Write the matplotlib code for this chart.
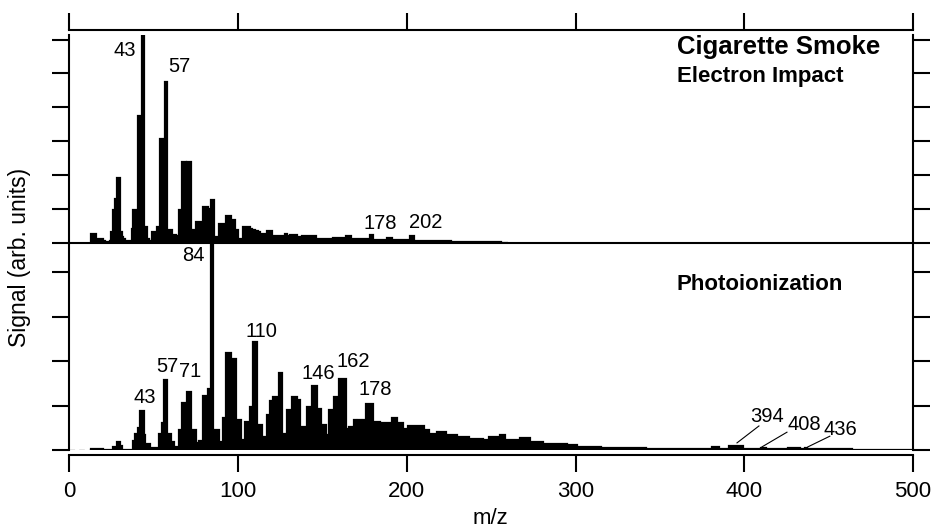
import numpy as np
import matplotlib
matplotlib.use('Agg')
import matplotlib.pyplot as plt

plt.rcParams['font.family'] = ['Liberation Sans', 'DejaVu Sans']

# ---------------- data (unit-mass channels) ----------------
ei_start_mz = 12   # electron impact spectrum, first channel m/z
ei_signal = [
    0.00, 0.26, 0.26, 0.26, 0.11, 0.11, 0.11, 0.11, 0.03, 0.02,   # 12-21
    0.02, 0.02, 0.03, 0.30, 0.95, 1.29, 1.90, 1.90, 0.31, 0.15,   # 22-31
    0.11, 0.05, 0.03, 0.03, 0.03, 0.40, 0.95, 0.95, 0.95, 3.75,   # 32-41
    3.75, 6.10, 0.45, 0.45, 0.11, 0.05, 0.05, 0.31, 0.31, 0.31,   # 42-51
    0.45, 0.45, 3.06, 3.06, 3.06, 4.74, 0.36, 0.36, 0.36, 0.21,   # 52-61
    0.21, 0.20, 0.20, 0.95, 0.95, 2.37, 2.37, 2.30, 2.37, 2.37,   # 62-71
    0.36, 0.36, 0.36, 0.60, 0.60, 0.60, 0.60, 1.04, 1.04, 1.04,   # 72-81
    0.98, 0.98, 1.27, 1.27, 0.16, 0.16, 0.16, 0.55, 0.55, 0.55,   # 82-91
    0.55, 0.78, 0.78, 0.78, 0.67, 0.67, 0.36, 0.36, 0.11, 0.11,   # 92-101
    0.11, 0.45, 0.45, 0.45, 0.45, 0.40, 0.38, 0.36, 0.35, 0.35,   # 102-111
    0.30, 0.26, 0.26, 0.26, 0.26, 0.33, 0.33, 0.33, 0.20, 0.20,   # 112-121
    0.20, 0.20, 0.20, 0.20, 0.20, 0.20, 0.24, 0.20, 0.20, 0.23,   # 122-131
    0.23, 0.23, 0.23, 0.16, 0.16, 0.16, 0.18, 0.18, 0.18, 0.18,   # 132-141
    0.18, 0.18, 0.18, 0.18, 0.11, 0.11, 0.11, 0.11, 0.11, 0.11,   # 142-151
    0.11, 0.11, 0.11, 0.11, 0.14, 0.14, 0.14, 0.14, 0.14, 0.14,   # 152-161
    0.14, 0.14, 0.18, 0.18, 0.18, 0.11, 0.11, 0.11, 0.11, 0.11,   # 162-171
    0.11, 0.11, 0.11, 0.11, 0.11, 0.11, 0.22, 0.22, 0.08, 0.08,   # 172-181
    0.08, 0.08, 0.08, 0.08, 0.08, 0.08, 0.12, 0.12, 0.12, 0.07,   # 182-191
    0.07, 0.07, 0.07, 0.07, 0.07, 0.07, 0.07, 0.07, 0.07, 0.07,   # 192-201
    0.18, 0.18, 0.03, 0.03, 0.03, 0.03, 0.03, 0.03, 0.03, 0.03,   # 202-211
    0.03, 0.03, 0.03, 0.03, 0.03, 0.03, 0.03, 0.03, 0.03, 0.03,   # 212-221
    0.03, 0.03, 0.03, 0.03, 0.01, 0.01, 0.01, 0.01, 0.01, 0.01,   # 222-231
    0.01, 0.01, 0.01, 0.01, 0.01, 0.01, 0.01, 0.01, 0.01, 0.01,   # 232-241
    0.01, 0.01, 0.01, 0.01, 0.01, 0.01, 0.01, 0.01, 0.01, 0.01,   # 242-251
    0.01, 0.01, 0.01, 0.01, 0.00, 0.00, 0.00, 0.00,               # 252-259
]

pi_start_mz = 12   # photoionization spectrum, first channel m/z
pi_signal = [
    0.00, 0.02, 0.02, 0.02, 0.02, 0.02, 0.02, 0.02, 0.01, 0.01,   # 12-21
    0.01, 0.01, 0.01, 0.01, 0.07, 0.07, 0.19, 0.19, 0.10, 0.01,   # 22-31
    0.01, 0.01, 0.01, 0.01, 0.01, 0.01, 0.20, 0.37, 0.37, 0.50,   # 32-41
    0.88, 0.88, 0.34, 0.14, 0.14, 0.14, 0.04, 0.04, 0.04, 0.04,   # 42-51
    0.04, 0.37, 0.37, 0.60, 1.57, 1.57, 0.37, 0.37, 0.19, 0.19,   # 52-61
    0.07, 0.07, 0.07, 0.45, 0.45, 1.05, 1.05, 1.05, 1.31, 1.31,   # 62-71
    0.45, 0.45, 0.45, 0.15, 0.15, 0.20, 0.20, 1.21, 1.21, 1.21,   # 72-81
    1.38, 1.38, 4.70, 0.45, 0.45, 0.45, 0.45, 0.19, 0.19, 0.71,   # 82-91
    0.71, 2.17, 2.17, 2.17, 2.04, 2.04, 2.04, 0.67, 0.67, 0.67,   # 92-101
    0.22, 0.22, 0.64, 0.64, 0.64, 0.97, 0.97, 2.43, 2.43, 0.56,   # 102-111
    0.56, 0.56, 0.30, 0.30, 0.30, 0.78, 0.78, 1.09, 1.09, 1.20,   # 112-121
    1.20, 1.20, 1.74, 1.74, 0.37, 0.37, 0.30, 0.90, 0.90, 0.90,   # 122-131
    1.20, 1.20, 1.20, 1.12, 1.12, 0.52, 0.52, 0.52, 0.33, 0.97,   # 132-141
    0.97, 0.97, 1.44, 1.44, 1.44, 0.93, 0.93, 0.56, 0.56, 0.56,   # 142-151
    0.33, 0.33, 0.90, 0.90, 0.90, 1.20, 1.20, 1.20, 1.60, 1.60,   # 152-161
    1.60, 1.60, 0.48, 0.48, 0.52, 0.52, 0.52, 0.67, 0.66, 0.68,   # 162-171
    0.67, 0.66, 0.67, 0.68, 1.03, 1.03, 1.03, 1.03, 0.64, 0.64,   # 172-181
    0.64, 0.64, 0.60, 0.60, 0.60, 0.60, 0.60, 0.60, 0.60, 0.71,   # 182-191
    0.71, 0.71, 0.60, 0.60, 0.60, 0.60, 0.48, 0.48, 0.48, 0.54,   # 192-201
    0.54, 0.54, 0.54, 0.54, 0.54, 0.54, 0.54, 0.54, 0.45, 0.45,   # 202-211
    0.45, 0.37, 0.37, 0.37, 0.37, 0.37, 0.40, 0.40, 0.40, 0.40,   # 212-221
    0.40, 0.33, 0.33, 0.33, 0.33, 0.33, 0.33, 0.33, 0.30, 0.30,   # 222-231
    0.30, 0.30, 0.30, 0.30, 0.30, 0.25, 0.25, 0.25, 0.25, 0.25,   # 232-241
    0.25, 0.25, 0.25, 0.22, 0.22, 0.22, 0.22, 0.30, 0.30, 0.30,   # 242-251
    0.30, 0.30, 0.30, 0.34, 0.34, 0.34, 0.22, 0.22, 0.22, 0.22,   # 252-261
    0.22, 0.22, 0.22, 0.22, 0.22, 0.26, 0.26, 0.26, 0.26, 0.26,   # 262-271
    0.26, 0.19, 0.19, 0.19, 0.19, 0.19, 0.19, 0.19, 0.19, 0.13,   # 272-281
    0.13, 0.13, 0.13, 0.13, 0.13, 0.13, 0.13, 0.13, 0.13, 0.13,   # 282-291
    0.13, 0.13, 0.13, 0.11, 0.11, 0.11, 0.11, 0.11, 0.11, 0.075,  # 292-301
    0.075, 0.075, 0.075, 0.075, 0.075, 0.075, 0.075, 0.075, 0.075, 0.075,  # 302-311
    0.075, 0.075, 0.075, 0.045, 0.045, 0.045, 0.045, 0.045, 0.045, 0.045,  # 312-321
    0.045, 0.045, 0.045, 0.045, 0.045, 0.045, 0.045, 0.045, 0.045, 0.045,  # 322-331
    0.045, 0.045, 0.045, 0.035, 0.035, 0.035, 0.035, 0.035, 0.035, 0.035,  # 332-341
    0.03, 0.03, 0.03, 0.03, 0.03, 0.03, 0.03, 0.03, 0.03, 0.03,   # 342-351
    0.03, 0.03, 0.03, 0.03, 0.03, 0.03, 0.03, 0.03, 0.03, 0.03,   # 352-361
    0.03, 0.03, 0.03, 0.03, 0.03, 0.03, 0.03, 0.03, 0.03, 0.03,   # 362-371
    0.03, 0.03, 0.03, 0.03, 0.03, 0.03, 0.03, 0.03, 0.03, 0.06,   # 372-381
    0.06, 0.06, 0.06, 0.02, 0.02, 0.02, 0.02, 0.02, 0.02, 0.09,   # 382-391
    0.09, 0.10, 0.10, 0.09, 0.09, 0.09, 0.09, 0.03, 0.03, 0.03,   # 392-401
    0.03, 0.03, 0.03, 0.03, 0.03, 0.03, 0.03, 0.03, 0.05, 0.05,   # 402-411
    0.05, 0.02, 0.02, 0.02, 0.02, 0.02, 0.02, 0.02, 0.02, 0.02,   # 412-421
    0.02, 0.02, 0.02, 0.02, 0.045, 0.045, 0.045, 0.045, 0.045, 0.045,  # 422-431
    0.045, 0.03, 0.03, 0.03, 0.04, 0.03, 0.015, 0.015, 0.015, 0.015,  # 432-441
    0.015, 0.015, 0.015, 0.015, 0.015, 0.015, 0.015, 0.015, 0.015, 0.015,  # 442-451
    0.015, 0.015, 0.015, 0.015, 0.015, 0.015, 0.015, 0.015, 0.015, 0.015,  # 452-461
    0.015, 0.015, 0.005, 0.005, 0.005, 0.005, 0.005, 0.005, 0.005, 0.005,  # 462-471
    0.005, 0.005, 0.005, 0.005, 0.005, 0.005, 0.005, 0.005, 0.005, 0.005,  # 472-481
    0.005, 0.005, 0.005, 0.005, 0.005, 0.005, 0.005, 0.005, 0.005, 0.005,  # 482-491
    0.005, 0.005, 0.005, 0.005, 0.005, 0.005, 0.005, 0.005, 0.005,        # 492-500
]

x_ticks = [0, 100, 200, 300, 400, 500]
ei_y_ticks = [0, 1, 2, 3, 4, 5, 6]
pi_y_ticks = [0, 1, 2, 3, 4]

ei_labels = ['43', '57', '178', '202']
ei_label_mz = [33.0, 65.5, 184.5, 211.0]
ei_label_y = [5.68, 5.21, 0.57, 0.59]

pi_labels = ['43', '57', '71', '84', '110', '146', '162', '178']
pi_label_mz = [44.5, 58.1, 71.8, 73.5, 113.9, 147.3, 168.3, 181.2]
pi_label_y = [1.17, 1.87, 1.76, 4.38, 2.66, 1.73, 1.98, 1.36]

tail_labels = ['394', '408', '436']
tail_label_mz = [413.3, 435.4, 457.2]
tail_label_y = [0.76, 0.57, 0.47]
tail_line_from_mz = [408.7, 425.3, 450.7]
tail_line_from_y = [0.54, 0.40, 0.31]
tail_line_to_mz = [395.7, 410.5, 437.7]
tail_line_to_y = [0.16, 0.07, 0.07]

# ---------------- layout ----------------
W, H = 935, 529
fig = plt.figure(figsize=(W / 100, H / 100), dpi=100)


def fx(px):
    return px / W


def fy(py):
    return 1 - py / H


x0, x1 = 69.3, 913.0
y_top, y_mid, y_bot = 35.0, 242.5, 450.0
ax_bot = fig.add_axes([fx(x0), fy(y_bot), fx(x1) - fx(x0), fy(y_mid) - fy(y_bot)])
ax_top = fig.add_axes([fx(x0), fy(y_mid), fx(x1) - fx(x0), fy(y_top) - fy(y_mid)])
ax_top.patch.set_visible(False)
ax_bot.patch.set_visible(False)

LW = 1.5
for ax in (ax_top, ax_bot):
    ax.set_xlim(0, 500)
    ax.set_xticks(x_ticks)
    for s in ax.spines.values():
        s.set_linewidth(LW)
    ax.yaxis.set_ticks_position('both')
    ax.tick_params(axis='y', direction='out', length=12, width=LW,
                   labelleft=False, labelright=False)

ax_top.set_ylim(0, (y_mid - y_top) / 33.83)
ax_top.set_yticks(ei_y_ticks)
ax_top.spines['bottom'].set_visible(False)
ax_top.spines['top'].set_position(('outward', 3.6))
ax_top.xaxis.set_ticks_position('top')
ax_top.tick_params(axis='x', direction='out', length=12, width=LW,
                   labeltop=False, labelbottom=False)

ax_bot.set_ylim(0, (y_bot - y_mid) / 44.5)
ax_bot.set_yticks(pi_y_ticks)
ax_bot.spines['top'].set_visible(False)
ax_bot.spines['bottom'].set_position(('outward', 3.6))
ax_bot.xaxis.set_ticks_position('bottom')
ax_bot.tick_params(axis='x', direction='out', length=12, width=LW,
                   labelsize=16, pad=7)

# spectra
ei_edges = np.arange(ei_start_mz, ei_start_mz + len(ei_signal) + 1)
pi_edges = np.arange(pi_start_mz, pi_start_mz + len(pi_signal) + 1)
ax_bot.axhline(0, color='0.45', lw=1.0, ls=(0, (4, 3)), zorder=1)
ax_top.stairs(ei_signal, ei_edges, baseline=0, fill=True,
              facecolor='black', edgecolor='black', linewidth=1.6, zorder=2)
ax_bot.stairs(pi_signal, pi_edges, baseline=0, fill=True,
              facecolor='black', edgecolor='black', linewidth=1.6, zorder=2)
ax_top.axhline(0, color='black', lw=LW, clip_on=False, zorder=3)

# peak labels
FS = 14.5
for t, xm, yv in zip(ei_labels, ei_label_mz, ei_label_y):
    ax_top.text(xm, yv, t, ha='center', va='center', fontsize=FS)
for t, xm, yv in zip(pi_labels, pi_label_mz, pi_label_y):
    ax_bot.text(xm, yv, t, ha='center', va='center', fontsize=FS)
for t, xm, yv, a, b, c, d in zip(tail_labels, tail_label_mz, tail_label_y,
                                 tail_line_from_mz, tail_line_from_y,
                                 tail_line_to_mz, tail_line_to_y):
    ax_bot.text(xm, yv, t, ha='center', va='center', fontsize=FS)
    ax_bot.plot([a, c], [b, d], color='black', lw=0.8)

# panel titles
fig.text(fx(677), fy(54), 'Cigarette Smoke', fontsize=18.5, fontweight='bold', va='baseline')
fig.text(fx(677), fy(81.7), 'Electron Impact', fontsize=16, fontweight='bold', va='baseline')
fig.text(fx(677), fy(290.5), 'Photoionization', fontsize=16, fontweight='bold', va='baseline')

# axis titles
fig.text(fx(20), fy(257), 'Signal (arb. units)', rotation=90, ha='center', va='center', fontsize=16.5)
fig.text(fx(490), fy(518), 'm/z', ha='center', va='center', fontsize=16)

fig.savefig('out.png', dpi=100)
